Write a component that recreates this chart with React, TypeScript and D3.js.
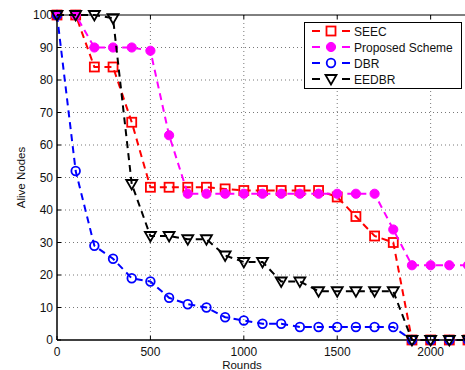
import React from "react";
import * as d3 from "d3";

const rounds = [0, 100, 200, 300, 400, 500, 600, 700, 800, 900, 1000, 1100, 1200, 1300, 1400, 1500, 1600, 1700, 1800, 1900, 2000, 2100, 2200];
const seec = [100, 100, 84, 84, 67, 47, 47, 47, 47, 46.5, 46, 46, 46, 46, 46, 44, 38, 32, 30, 0, 0, 0, 0];
const proposed = [100, 100, 90, 90, 90, 89, 63, 45, 45, 45, 45, 45, 45, 45, 45, 45, 45, 45, 34, 23, 23, 23, 23];
const dbr = [100, 52, 29, 25, 19, 18, 13, 11, 10, 7, 6, 5, 5, 4, 4, 4, 4, 4, 4, 0, 0, 0, 0];
const eedbr = [100, 100, 100, 99, 48, 32, 32, 31, 31, 26, 24, 24, 18, 18, 15, 15, 15, 15, 15, 0, 0, 0, 0];
const seriesNames = ["SEEC", "Proposed Scheme", "DBR", "EEDBR"];
const xTicks = [0, 500, 1000, 1500, 2000];
const yTicks = [0, 10, 20, 30, 40, 50, 60, 70, 80, 90, 100];

const W = 465, H = 370;
const left = 57, top = 15, right = 468, bottom = 340;

type Marker = "square" | "dot" | "circle" | "tri";
const styles: { color: string; marker: Marker }[] = [
  { color: "#ff0000", marker: "square" },
  { color: "#ff00ff", marker: "dot" },
  { color: "#0000ff", marker: "circle" },
  { color: "#000000", marker: "tri" },
];

function MarkerShape({ x, y, color, marker }: { x: number; y: number; color: string; marker: Marker }) {
  if (marker === "square")
    return <rect x={x - 4.5} y={y - 4.5} width={9} height={9} fill="none" stroke={color} strokeWidth={1.8} />;
  if (marker === "dot") return <circle cx={x} cy={y} r={4.6} fill={color} stroke={color} strokeWidth={1} />;
  if (marker === "circle") return <circle cx={x} cy={y} r={4.3} fill="none" stroke={color} strokeWidth={1.8} />;
  const p = `M${x - 5.5},${y - 4} L${x + 5.5},${y - 4} L${x},${y + 5.5} Z`;
  return <path d={p} fill="none" stroke={color} strokeWidth={1.8} strokeLinejoin="miter" />;
}

export default function App() {
  const x = d3.scaleLinear().domain([0, 2200]).range([left, right]);
  const y = d3.scaleLinear().domain([0, 100]).range([bottom, top]);
  const data = [seec, proposed, dbr, eedbr];
  const line = d3
    .line<number>()
    .x((_, i) => x(rounds[i]))
    .y((d) => y(d));
  const font = "Liberation Sans, Arial, Helvetica, sans-serif";
  const legY = [31, 47, 63, 79];
  return (
    <svg width={W} height={H} style={{ position: "absolute", left: 0, top: 0, background: "#fff" }} fontFamily={font}>
      <rect x={0} y={0} width={W} height={H} fill="#fff" />
      {/* grid */}
      {xTicks.filter((t) => t > 0).map((t) => (
        <line key={"gx" + t} x1={x(t)} x2={x(t)} y1={top} y2={bottom} stroke="#555" strokeWidth={0.8} strokeDasharray="1,3" />
      ))}
      {yTicks.filter((t) => t > 0 && t < 100).map((t) => (
        <line key={"gy" + t} x1={left} x2={right} y1={y(t)} y2={y(t)} stroke="#555" strokeWidth={0.8} strokeDasharray="1,3" />
      ))}
      {/* box */}
      <line x1={left} x2={right} y1={top} y2={top} stroke="#000" strokeWidth={1} />
      <line x1={left} x2={left} y1={top} y2={bottom} stroke="#000" strokeWidth={1.5} />
      <line x1={left} x2={right} y1={bottom} y2={bottom} stroke="#000" strokeWidth={1.5} />
      {/* ticks */}
      {xTicks.map((t) => (
        <g key={"xt" + t}>
          <line x1={x(t)} x2={x(t)} y1={bottom} y2={bottom - 4} stroke="#000" />
          <line x1={x(t)} x2={x(t)} y1={top} y2={top + 4} stroke="#000" />
          <text x={x(t)} y={bottom + 15.5} textAnchor="middle" fontSize={12} fill="#111">{t}</text>
        </g>
      ))}
      {yTicks.map((t) => (
        <g key={"yt" + t}>
          <line x1={left} x2={left + 4} y1={y(t)} y2={y(t)} stroke="#000" />
          <text x={left - 4} y={y(t) + 4} textAnchor="end" fontSize={12} fill="#111">{t}</text>
        </g>
      ))}
      <text x={242} y={369} textAnchor="middle" fontSize={11.5} fill="#111">Rounds</text>
      <text transform={`translate(25,${(top + bottom) / 2}) rotate(-90)`} textAnchor="middle" fontSize={11.5} fill="#111">Alive Nodes</text>
      {/* series */}
      {data.map((vals, si) => (
        <g key={"s" + si}>
          <path d={line(vals) || ""} fill="none" stroke={styles[si].color} strokeWidth={2} strokeDasharray="7,5" />
          {vals.map((v, i) => (
            <MarkerShape key={i} x={x(rounds[i])} y={y(v)} color={styles[si].color} marker={styles[si].marker} />
          ))}
        </g>
      ))}
      {/* legend */}
      <rect x={304.5} y={22.5} width={157} height={66} fill="#fff" stroke="#000" strokeWidth={1} />
      {seriesNames.map((n, i) => (
        <g key={"l" + i}>
          <line x1={312} x2={320} y1={legY[i]} y2={legY[i]} stroke={styles[i].color} strokeWidth={2} />
          <line x1={342} x2={350} y1={legY[i]} y2={legY[i]} stroke={styles[i].color} strokeWidth={2} />
          <MarkerShape x={331} y={legY[i]} color={styles[i].color} marker={styles[i].marker} />
          <text x={354} y={legY[i] + 4.5} fontSize={12} fill="#111">{n}</text>
        </g>
      ))}
    </svg>
  );
}
